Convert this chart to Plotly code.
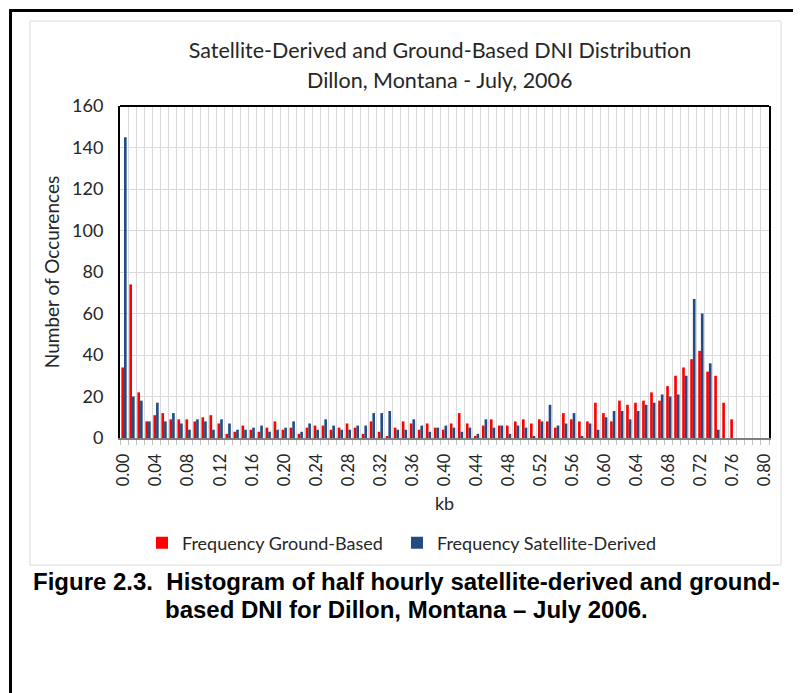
import plotly.graph_objects as go

# ---- data ----
kb = ["0.00","0.01","0.02","0.03","0.04","0.05","0.06","0.07","0.08","0.09",
      "0.10","0.11","0.12","0.13","0.14","0.15","0.16","0.17","0.18","0.19",
      "0.20","0.21","0.22","0.23","0.24","0.25","0.26","0.27","0.28","0.29",
      "0.30","0.31","0.32","0.33","0.34","0.35","0.36","0.37","0.38","0.39",
      "0.40","0.41","0.42","0.43","0.44","0.45","0.46","0.47","0.48","0.49",
      "0.50","0.51","0.52","0.53","0.54","0.55","0.56","0.57","0.58","0.59",
      "0.60","0.61","0.62","0.63","0.64","0.65","0.66","0.67","0.68","0.69",
      "0.70","0.71","0.72","0.73","0.74","0.75","0.76","0.77","0.78","0.79",
      "0.80"]
ground_based = [34,74,22,8,11,12,9,9,9,8, 10,11,7,2,3,6,4,3,5,8,
                4,5,2,5,6,6,4,5,7,5, 2,8,3,1,5,8,7,4,7,5,
                4,7,12,7,1,6,9,6,6,8, 9,7,9,8,5,12,9,8,8,17,
                12,8,18,16,17,18,22,18,25,30, 34,38,42,32,30,17,9,0,0,0,
                0]
satellite_derived = [145,20,18,8,17,8,12,7,4,9, 8,4,9,7,4,4,5,6,3,4,
                     5,8,3,7,4,9,6,4,4,6, 6,12,12,13,4,4,9,6,3,5,
                     6,5,3,5,2,9,5,6,2,6, 5,1,8,16,6,7,12,1,7,4,
                     10,13,13,9,13,16,17,21,20,21, 30,67,60,36,4,0,0,0,0,0,
                     0]
tick_labels = ["0.00","0.04","0.08","0.12","0.16","0.20","0.24","0.28","0.32","0.36",
               "0.40","0.44","0.48","0.52","0.56","0.60","0.64","0.68","0.72","0.76","0.80"]

# ---- layout geometry (page pixels; page body has an 8px margin) ----
OFF = 8
W, H = 801 - OFF, 693 - OFF
PL, PR, PT, PB = 120, 769, 106, 438          # plot area on the page
ML, MR, MT, MB = PL - OFF, W - (PR - OFF), PT - OFF, H - (PB - OFF)
PW, PH = W - ML - MR, H - MT - MB

def px(x):
    return (x - OFF - ML) / PW

def py(y):
    return (H - MB - (y - OFF)) / PH

def cy(y):
    return 1 - (y - OFF) / H

FONT = "Lato"
TXT = "#262626"
RED = "#FF0000"
BLUE = "#234C82"

fig = go.Figure()
fig.add_trace(go.Bar(x=kb, y=ground_based, name="Frequency Ground-Based",
                     marker=dict(color=RED, line=dict(width=0)), legend="legend"))
fig.add_trace(go.Bar(x=kb, y=satellite_derived, name="Frequency Satellite-Derived",
                     marker=dict(color=BLUE, line=dict(width=0)), legend="legend2"))

ticktext = [k if k in tick_labels else "" for k in kb]

legend_common = dict(orientation="h", xanchor="left", y=py(543), yanchor="middle",
                     font=dict(family=FONT, size=18, color=TXT), bgcolor="rgba(0,0,0,0)")

fig.update_layout(
    width=W, height=H,
    margin=dict(l=ML, r=MR, t=MT, b=MB, autoexpand=False),
    paper_bgcolor="white", plot_bgcolor="white",
    barmode="group", bargap=0.34, bargroupgap=0,
    font=dict(family=FONT, size=18, color=TXT),
    title=dict(text="Satellite-Derived and Ground-Based DNI Distribution",
               x=px(440), xanchor="center", xref="paper",
               y=cy(50), yanchor="middle", yref="container",
               font=dict(family=FONT, size=21.5, color=TXT)),
    xaxis=dict(
        type="category", tickmode="array", tickvals=kb, ticktext=ticktext,
        tickangle=-90, tickson="boundaries", ticks="outside", ticklen=5,
        tickcolor="#BFBFBF", showgrid=True, gridcolor="#D9D9D9", gridwidth=1,
        showline=True, linecolor="#7F7F7F", linewidth=2,
        ticklabelstandoff=7,
        title=dict(text="kb", standoff=12, font=dict(family=FONT, size=18)),
        tickfont=dict(family=FONT, size=16.5),
    ),
    yaxis=dict(
        range=[0, 160], dtick=20, showgrid=True, gridcolor="#D9D9D9", gridwidth=1,
        zeroline=False, showline=True, linecolor="black", linewidth=2, mirror=True,
        ticks="", ticklabelstandoff=11,
        title=dict(text="Number of Occurences", standoff=7, font=dict(family=FONT, size=19)),
        tickfont=dict(family=FONT, size=18),
    ),
    legend=dict(x=px(142), **legend_common),
    legend2=dict(x=px(397), **legend_common),
    showlegend=True,
)

# second title line
fig.add_annotation(text="Dillon, Montana - July, 2006", xref="paper", yref="paper",
                   x=px(440), y=py(80), xanchor="center", yanchor="middle", showarrow=False,
                   font=dict(family=FONT, size=21.5, color=TXT))

# caption below the chart
fig.add_annotation(text="<b>Figure 2.3.  Histogram of half hourly satellite-derived and ground-</b>",
                   xref="paper", yref="paper", x=px(406), y=py(581), xanchor="center",
                   yanchor="middle", showarrow=False,
                   font=dict(family="Liberation Sans", size=24, color="black"))
fig.add_annotation(text="<b>based DNI for Dillon, Montana \u2013 July 2006.</b>",
                   xref="paper", yref="paper", x=px(406), y=py(609), xanchor="center",
                   yanchor="middle", showarrow=False,
                   font=dict(family="Liberation Sans", size=24, color="black"))

# plot-area top border
fig.add_shape(type="line", xref="paper", yref="paper", x0=0, x1=1, y0=1, y1=1,
              line=dict(color="black", width=2))
# chart-area border
fig.add_shape(type="rect", xref="paper", yref="paper", x0=px(30), x1=px(781), y0=py(21), y1=py(565),
              line=dict(color="#D9D9D9", width=1), layer="below")
# outer page frame
fig.add_shape(type="line", xref="paper", yref="paper", x0=px(10.5), x1=px(10.5), y0=py(9), y1=py(700),
              line=dict(color="black", width=3))
fig.add_shape(type="line", xref="paper", yref="paper", x0=px(9), x1=px(805), y0=py(10.5), y1=py(10.5),
              line=dict(color="black", width=3))

fig.write_html("out.html")
